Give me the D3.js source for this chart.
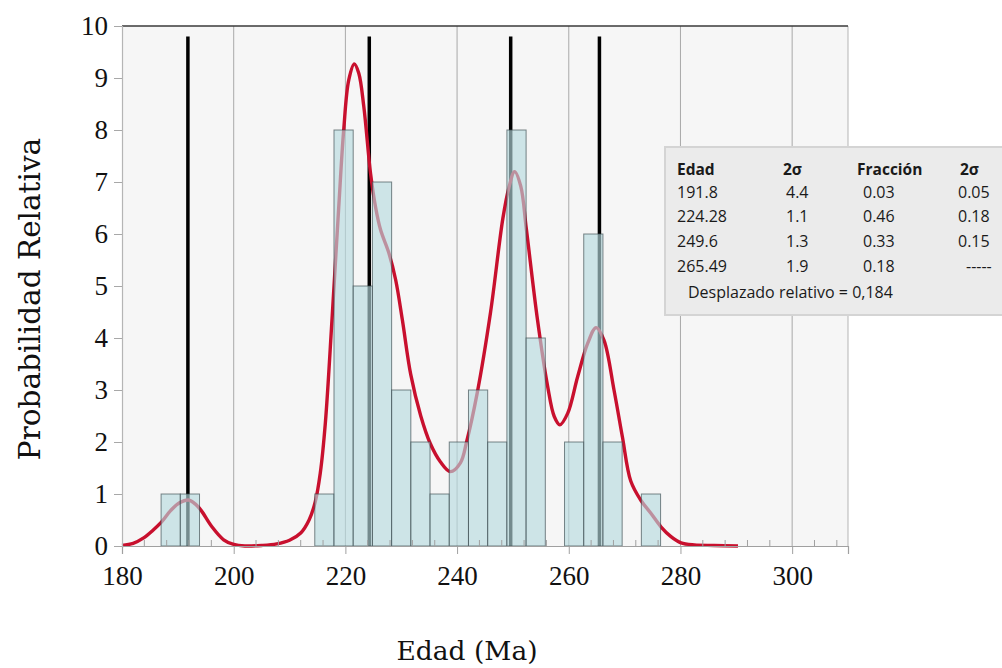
<!DOCTYPE html>
<html>
<head>
<meta charset="utf-8">
<script src="https://cdn.jsdelivr.net/npm/d3@7"></script>
<style>
  html, body { margin: 0; padding: 0; background: #ffffff; overflow: hidden; }
  svg { display: block; }
</style>
</head>
<body>
<svg id="chart" width="1002" height="668"></svg>
<script>
// ---- Histogram of ages (Ma): first bin edge, bin width and counts per bin ----
const binStart = 187.0;
const binWidth = 3.44;
const binCounts = [1, 1, 0, 0, 0, 0, 0, 0, 1, 8, 5, 7, 3, 2, 1, 2, 3, 2, 8, 4, 0, 2, 6, 2, 0, 1];

// ---- Component ages from the mixture model ----
const peakAges = [191.8, 224.28, 249.6, 265.49];
const peakHeight = 9.8;

// ---- Relative probability curve (age, density) ----
const curveAges = [
  180, 182, 183.8, 185.5, 187.05, 188.7, 190.3, 191.9, 193.2, 194.2, 196.1, 198.2, 200, 202, 205,
  207.7, 210, 212, 213.5, 214.6, 215.5, 216.4, 217.6, 218.8, 219.7, 220.6, 221.6, 222.4, 223.3,
  224.5, 225.4, 226.3, 227.8, 229.0, 230.2, 231.7, 233.5, 235.2, 237.0, 238.8, 240.6, 241.7,
  243.6, 246.0, 248.2, 249.3, 250.3, 251.4, 252.4, 254.4, 256.2, 257.4, 258.4, 259.8, 261.6,
  263.4, 264.9, 266.3, 268.1, 269.6, 271.1, 272.9, 274.7, 276.5, 278.3, 280.1, 282.5, 286, 290.3
];
const curveDensity = [
  0.01, 0.05, 0.15, 0.30, 0.46, 0.68, 0.83, 0.885, 0.80, 0.68, 0.37, 0.12, 0.03, 0.0, 0.01,
  0.04, 0.11, 0.25, 0.50, 0.85, 1.40, 2.35, 4.35, 6.50, 8.00, 8.96, 9.27, 9.09, 8.45,
  7.17, 6.52, 6.08, 5.63, 5.12, 4.35, 3.30, 2.50, 1.97, 1.62, 1.43, 1.60, 2.00,
  2.94, 4.50, 6.30, 6.90, 7.20, 6.92, 6.10, 4.35, 3.08, 2.49, 2.33, 2.55, 3.26,
  3.90, 4.20, 3.96, 3.00, 2.10, 1.25, 0.88, 0.63, 0.37, 0.18, 0.06, 0.02, 0.01, 0.0
];

// ---- Axes ----
const xDomain = [180, 310];
const yDomain = [0, 10];
const xTickValues = [180, 200, 220, 240, 260, 280, 300];
const xMinorStep = 4;
const yTickValues = [0, 1, 2, 3, 4, 5, 6, 7, 8, 9, 10];
const xTitle = "Edad (Ma)";
const yTitle = "Probabilidad Relativa";

// ---- Results table ----
const tableHeader = ["Edad", "2σ", "Fracción", "2σ"];
const tableAges = ["191.8", "224.28", "249.6", "265.49"];
const tableAgeErr = ["4.4", "1.1", "1.3", "1.9"];
const tableFraction = ["0.03", "0.46", "0.33", "0.18"];
const tableFractionErr = ["0.05", "0.18", "0.15", "-----"];
const tableNote = "Desplazado relativo = 0,184";

// ================= drawing =================
const svg = d3.select("#chart");
const plot = { left: 122, right: 848, top: 26, bottom: 546 };

const x = d3.scaleLinear().domain(xDomain).range([plot.left, plot.right]);
const y = d3.scaleLinear().domain(yDomain).range([plot.bottom, plot.top]);

svg.append("rect").attr("width", 1002).attr("height", 668).attr("fill", "#ffffff");

// plot area background
svg.append("rect")
  .attr("x", plot.left).attr("y", plot.top)
  .attr("width", plot.right - plot.left).attr("height", plot.bottom - plot.top)
  .attr("fill", "#f6f6f6");

// vertical grid lines at major ticks
svg.append("g")
  .selectAll("line")
  .data(xTickValues.filter(d => d > xDomain[0]))
  .join("line")
  .attr("x1", d => x(d)).attr("x2", d => x(d))
  .attr("y1", plot.top).attr("y2", plot.bottom)
  .attr("stroke", "#a9a9a9").attr("stroke-width", 1);

// right frame
svg.append("line")
  .attr("x1", plot.right).attr("x2", plot.right)
  .attr("y1", plot.top).attr("y2", plot.bottom)
  .attr("stroke", "#b5b5b5").attr("stroke-width", 1);

// component age markers
svg.append("g")
  .selectAll("line")
  .data(peakAges)
  .join("line")
  .attr("x1", d => x(d)).attr("x2", d => x(d))
  .attr("y1", y(0)).attr("y2", y(peakHeight))
  .attr("stroke", "#000000").attr("stroke-width", 3.5);

// probability curve
const curvePoints = curveAges.map((a, i) => [a, curveDensity[i]]);
svg.append("path")
  .datum(curvePoints)
  .attr("fill", "none")
  .attr("stroke", "#c8102e")
  .attr("stroke-width", 3.4)
  .attr("stroke-linejoin", "round")
  .attr("d", d3.line().x(d => x(d[0])).y(d => y(d[1])).curve(d3.curveCatmullRom.alpha(0.5)));

// histogram bars (translucent, over the curve)
const bins = binCounts
  .map((c, i) => ({ x0: binStart + i * binWidth, x1: binStart + (i + 1) * binWidth, count: c }))
  .filter(b => b.count > 0);
svg.append("g")
  .selectAll("rect")
  .data(bins)
  .join("rect")
  .attr("x", d => x(d.x0))
  .attr("y", d => y(d.count))
  .attr("width", d => x(d.x1) - x(d.x0))
  .attr("height", d => y(0) - y(d.count))
  .attr("fill", "rgba(182, 218, 222, 0.64)")
  .attr("stroke", "rgba(55, 70, 75, 0.65)")
  .attr("stroke-width", 1);

// top frame
svg.append("line")
  .attr("x1", plot.left).attr("x2", plot.right)
  .attr("y1", plot.top).attr("y2", plot.top)
  .attr("stroke", "#3a3a3a").attr("stroke-width", 1.5);

// x axis
const xAxis = svg.append("g").attr("transform", `translate(0,${plot.bottom})`);
xAxis.call(d3.axisBottom(x).tickValues(xTickValues).tickSize(8).tickPadding(12).tickFormat(d3.format("d")));
xAxis.select(".domain").attr("stroke", "#a0a0a0").attr("stroke-width", 1.2);
xAxis.selectAll(".tick line").attr("stroke", "#a0a0a0");
xAxis.selectAll(".tick text")
  .attr("fill", "#111")
  .style("font-family", "'Liberation Serif', serif")
  .style("font-size", "27px");

// minor ticks pointing inside
const minorTicks = d3.range(xDomain[0], xDomain[1] + 0.01, xMinorStep).filter(v => v % 20 !== 0);
svg.append("g")
  .selectAll("line")
  .data(minorTicks)
  .join("line")
  .attr("x1", d => x(d)).attr("x2", d => x(d))
  .attr("y1", plot.bottom).attr("y2", plot.bottom - 6)
  .attr("stroke", "#a0a0a0").attr("stroke-width", 1);

// y axis
const yAxis = svg.append("g").attr("transform", `translate(${plot.left},0)`);
yAxis.call(d3.axisLeft(y).tickValues(yTickValues).tickSize(8).tickPadding(6).tickFormat(d3.format("d")));
yAxis.select(".domain").attr("stroke", "#b5b5b5").attr("stroke-width", 1.2);
yAxis.selectAll(".tick line").attr("stroke", "#a8a8a8");
yAxis.selectAll(".tick text")
  .attr("fill", "#111")
  .style("font-family", "'Liberation Serif', serif")
  .style("font-size", "27px");

// axis titles
svg.append("text")
  .attr("x", 467).attr("y", 660)
  .attr("text-anchor", "middle")
  .attr("fill", "#111")
  .style("font-family", "'DejaVu Serif', serif")
  .style("font-size", "26.5px")
  .text(xTitle);

svg.append("text")
  .attr("transform", "translate(40,299) rotate(-90)")
  .attr("text-anchor", "middle")
  .attr("fill", "#111")
  .style("font-family", "'DejaVu Serif', serif")
  .style("font-size", "29.5px")
  .text(yTitle);

// results table
const table = svg.append("g");
table.append("rect")
  .attr("x", 665).attr("y", 147)
  .attr("width", 360).attr("height", 168)
  .attr("fill", "#ebebeb")
  .attr("stroke", "#d4d4d4").attr("stroke-width", 2);

const headerX = [677, 783, 857, 960];
table.selectAll("text.head")
  .data(tableHeader)
  .join("text")
  .attr("class", "head")
  .attr("x", (d, i) => headerX[i]).attr("y", 175)
  .attr("fill", "#1a1a1a")
  .style("font-family", "'Open Sans', sans-serif")
  .style("font-weight", "bold")
  .style("font-size", "15.5px")
  .text(d => d);

const colX = [677, 786, 863, 958];
const rowY = [198, 222, 247, 272];
const columns = [tableAges, tableAgeErr, tableFraction, tableFractionErr];
columns.forEach((col, ci) => {
  table.append("g")
    .selectAll("text")
    .data(col)
    .join("text")
    .attr("x", colX[ci])
    .attr("y", (d, i) => rowY[i])
    .attr("dx", d => (d === "-----" ? 8 : 0))
    .attr("fill", "#1a1a1a")
    .style("font-family", "'Open Sans', sans-serif")
    .style("font-size", "16px")
    .text(d => d);
});

table.append("text")
  .attr("x", 688).attr("y", 298)
  .attr("fill", "#1a1a1a")
  .style("font-family", "'Open Sans', sans-serif")
  .style("font-size", "16px")
  .text(tableNote);
</script>
</body>
</html>
